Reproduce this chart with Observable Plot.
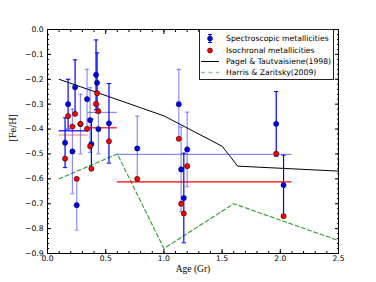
<!DOCTYPE html>
<html>
<head>
<meta charset="utf-8">
<script src="https://cdn.jsdelivr.net/npm/d3@7"></script>
<script src="https://cdn.jsdelivr.net/npm/@observablehq/plot@0.6"></script>
<style>
  html, body { margin: 0; padding: 0; background: #fff; }
  #wrap { position: relative; width: 376px; height: 282px; overflow: hidden; }
  #legend { position: absolute; left: 199px; top: 29px; width: 135px; height: 51px; border: 1px solid #222; background: #fff;
            font-family: "DejaVu Sans", sans-serif; font-size: 7.7px; color: #000; box-sizing: border-box; padding-top: 3px; overflow: visible; }
  .row { display: flex; align-items: center; height: 11.4px; white-space: nowrap; }
  .row svg { flex: none; margin-right: 2px; }
</style>
</head>
<body>
<div id="wrap"><div id="legend"></div></div>
<script>
// ---- data ----
const ages     = [0.151, 0.177, 0.214, 0.237, 0.251, 0.283, 0.340, 0.366, 0.377, 0.417, 0.426, 0.437, 0.528, 0.771, 1.128, 1.148, 1.171, 1.200, 1.965, 2.028];
const specFeH  = [-0.455, -0.300, -0.490, -0.232, -0.706, -0.380, -0.280, -0.364, -0.460, -0.182, -0.214, -0.400, -0.377, -0.478, -0.300, -0.562, -0.677, -0.482, -0.379, -0.625];
const specErr  = [0.10, 0.10, 0.17, 0.11, 0.10, 0.12, 0.12, 0.13, 0.10, 0.14, 0.12, 0.10, 0.16, 0.13, 0.14, 0.17, 0.18, 0.15, 0.13, 0.12];
const specSet  = ["A", "A", "B", "A", "B", "B", "B", "B", "A", "A", "A", "B", "A", "B", "B", "B", "A", "B", "A", "A"];
const isoFeH   = [-0.519, -0.348, -0.390, -0.339, -0.600, -0.379, -0.399, -0.469, -0.559, -0.299, -0.256, -0.328, -0.449, -0.600, -0.439, -0.700, -0.739, -0.549, -0.499, -0.750];

const binStart    = [0.10, 0.35, 0.60];
const binEnd      = [0.35, 0.60, 2.10];
const binSpecMean = [-0.407, -0.333, -0.502];
const binSpecSet  = ["A", "B", "B"];
const binIsoMean  = [-0.424, -0.395, -0.612];
const binIsoSet   = ["B", "A", "A"];

const pagelAge  = [0.1, 1.0, 1.5, 1.634, 2.5];
const pagelFeH  = [-0.200, -0.347, -0.469, -0.549, -0.569];
const harrisAge = [0.1, 0.6, 1.0, 1.6, 2.5];
const harrisFeH = [-0.600, -0.500, -0.880, -0.700, -0.848];

const xTicks = [0, 0.5, 1.0, 1.5, 2.0, 2.5];
const yTicks = [0, -0.1, -0.2, -0.3, -0.4, -0.5, -0.6, -0.7, -0.8, -0.9];
const legendLabels = ["Spectroscopic metallicities", "Isochronal metallicities", "Pagel & Tautvaisiene(1998)", "Harris & Zaritsky(2009)"];

// ---- tables ----
const spec = ages.map((a, i) => ({age: a, feh: specFeH[i], err: specErr[i], set: specSet[i], iso: isoFeH[i]}));
const bins = binStart.map((s, i) => ({x1: s, x2: binEnd[i], spec: binSpecMean[i], specSet: binSpecSet[i], iso: binIsoMean[i], isoSet: binIsoSet[i]}));
const pagel = pagelAge.map((a, i) => ({age: a, feh: pagelFeH[i]}));
const harris = harrisAge.map((a, i) => ({age: a, feh: harrisFeH[i]}));

const xMinor = d3.range(0, 26).map(i => i / 10);
const yMinor = d3.range(0, 46).map(i => -i / 50);

const BLUE = "#0000ff", RED = "#ff0000", GREEN = "#2e9e2e";
const opac = s => s === "A" ? 1 : 0.45;
const capSymbol = {draw(ctx, size) { const r = Math.sqrt(size / Math.PI); ctx.moveTo(-r, 0); ctx.lineTo(r, 0); }};
const noText = () => "";

const chart = Plot.plot({
  width: 376, height: 282,
  marginLeft: 47, marginRight: 38, marginTop: 29, marginBottom: 29,
  style: {fontFamily: "DejaVu Sans, sans-serif", fontSize: "7.6px", background: "transparent", color: "#000"},
  x: {domain: [0, 2.5]},
  y: {domain: [-0.9, 0]},
  marks: [
    // axes with inward ticks on all four sides
    Plot.axisX(xTicks, {anchor: "bottom", tickSize: -4, tickPadding: 6, tickFormat: d3.format(".1f"), label: null}),
    Plot.axisX(xMinor, {anchor: "bottom", tickSize: -2, tickFormat: noText, label: null}),
    Plot.axisX(xTicks, {anchor: "top", tickSize: -4, tickFormat: noText, label: null}),
    Plot.axisX(xMinor, {anchor: "top", tickSize: -2, tickFormat: noText, label: null}),
    Plot.axisY(yTicks, {anchor: "left", tickSize: -4, tickPadding: 8, tickFormat: d3.format(".1f"), label: null}),
    Plot.axisY(yMinor, {anchor: "left", tickSize: -2, tickFormat: noText, label: null}),
    Plot.axisY(yTicks, {anchor: "right", tickSize: -4, tickFormat: noText, label: null}),
    Plot.axisY(yMinor, {anchor: "right", tickSize: -2, tickFormat: noText, label: null}),
    // model curves
    Plot.line(pagel, {x: "age", y: "feh", stroke: "#000", strokeWidth: 1}),
    Plot.line(harris, {x: "age", y: "feh", stroke: GREEN, strokeWidth: 1.1, strokeDasharray: "4,2.6"}),
    // bin means (horizontal bars)
    Plot.ruleY(bins, {y: "spec", x1: "x1", x2: "x2", stroke: BLUE, strokeOpacity: d => opac(d.specSet), strokeWidth: 1.2}),
    Plot.ruleY(bins, {y: "iso", x1: "x1", x2: "x2", stroke: RED, strokeOpacity: d => opac(d.isoSet), strokeWidth: 1.2}),
    // spectroscopic error bars
    Plot.ruleX(spec, {x: "age", y1: d => d.feh - d.err, y2: d => d.feh + d.err, stroke: BLUE, strokeOpacity: d => opac(d.set), strokeWidth: 1.2}),
    Plot.dot(spec, {x: "age", y: d => d.feh + d.err, symbol: capSymbol, r: 2.2, fill: "none", stroke: BLUE, strokeOpacity: d => opac(d.set), strokeWidth: 1}),
    Plot.dot(spec, {x: "age", y: d => d.feh - d.err, symbol: capSymbol, r: 2.2, fill: "none", stroke: BLUE, strokeOpacity: d => opac(d.set), strokeWidth: 1}),
    Plot.dot(spec, {x: "age", y: "feh", r: 2.6, fill: BLUE, stroke: "#000", strokeWidth: 0.5}),
    Plot.dot(spec, {x: "age", y: "iso", r: 2.6, fill: RED, stroke: "#000", strokeWidth: 0.5}),
    Plot.frame({stroke: "#000", strokeWidth: 1}),
    // axis titles
    Plot.text(["[Fe/H]"], {frameAnchor: "left", dx: -34, rotate: -90, fontFamily: "DejaVu Serif, serif", fontSize: 8.5}),
    Plot.text(["Age (Gr)"], {frameAnchor: "bottom", dy: 18, fontFamily: "Liberation Serif, serif", fontSize: 9.5})
  ]
});
document.getElementById("wrap").prepend(chart);

// ---- legend ----
const legendSymbols = [
  `<svg width="24" height="11"><line x1="10" x2="10" y1="1.5" y2="9.5" stroke="${BLUE}" stroke-width="1.2"/><line x1="8" x2="12" y1="1.5" y2="1.5" stroke="${BLUE}"/><line x1="8" x2="12" y1="9.5" y2="9.5" stroke="${BLUE}"/><circle cx="10" cy="5.5" r="2.5" fill="${BLUE}" stroke="#000" stroke-width="0.5"/></svg>`,
  `<svg width="24" height="11"><circle cx="10" cy="5.5" r="2.5" fill="${RED}" stroke="#000" stroke-width="0.5"/></svg>`,
  `<svg width="24" height="11"><line x1="1" x2="19" y1="5.5" y2="5.5" stroke="#000" stroke-width="1"/></svg>`,
  `<svg width="24" height="11"><line x1="1" x2="19" y1="5.5" y2="5.5" stroke="${GREEN}" stroke-opacity="0.55" stroke-width="1.4" stroke-dasharray="4,3.5"/></svg>`
];
const leg = document.getElementById("legend");
legendLabels.forEach((t, i) => {
  const row = document.createElement("div");
  row.className = "row";
  row.innerHTML = legendSymbols[i] + `<span>${t.replace(/&/g, "&amp;")}</span>`;
  leg.appendChild(row);
});
</script>
</body>
</html>
